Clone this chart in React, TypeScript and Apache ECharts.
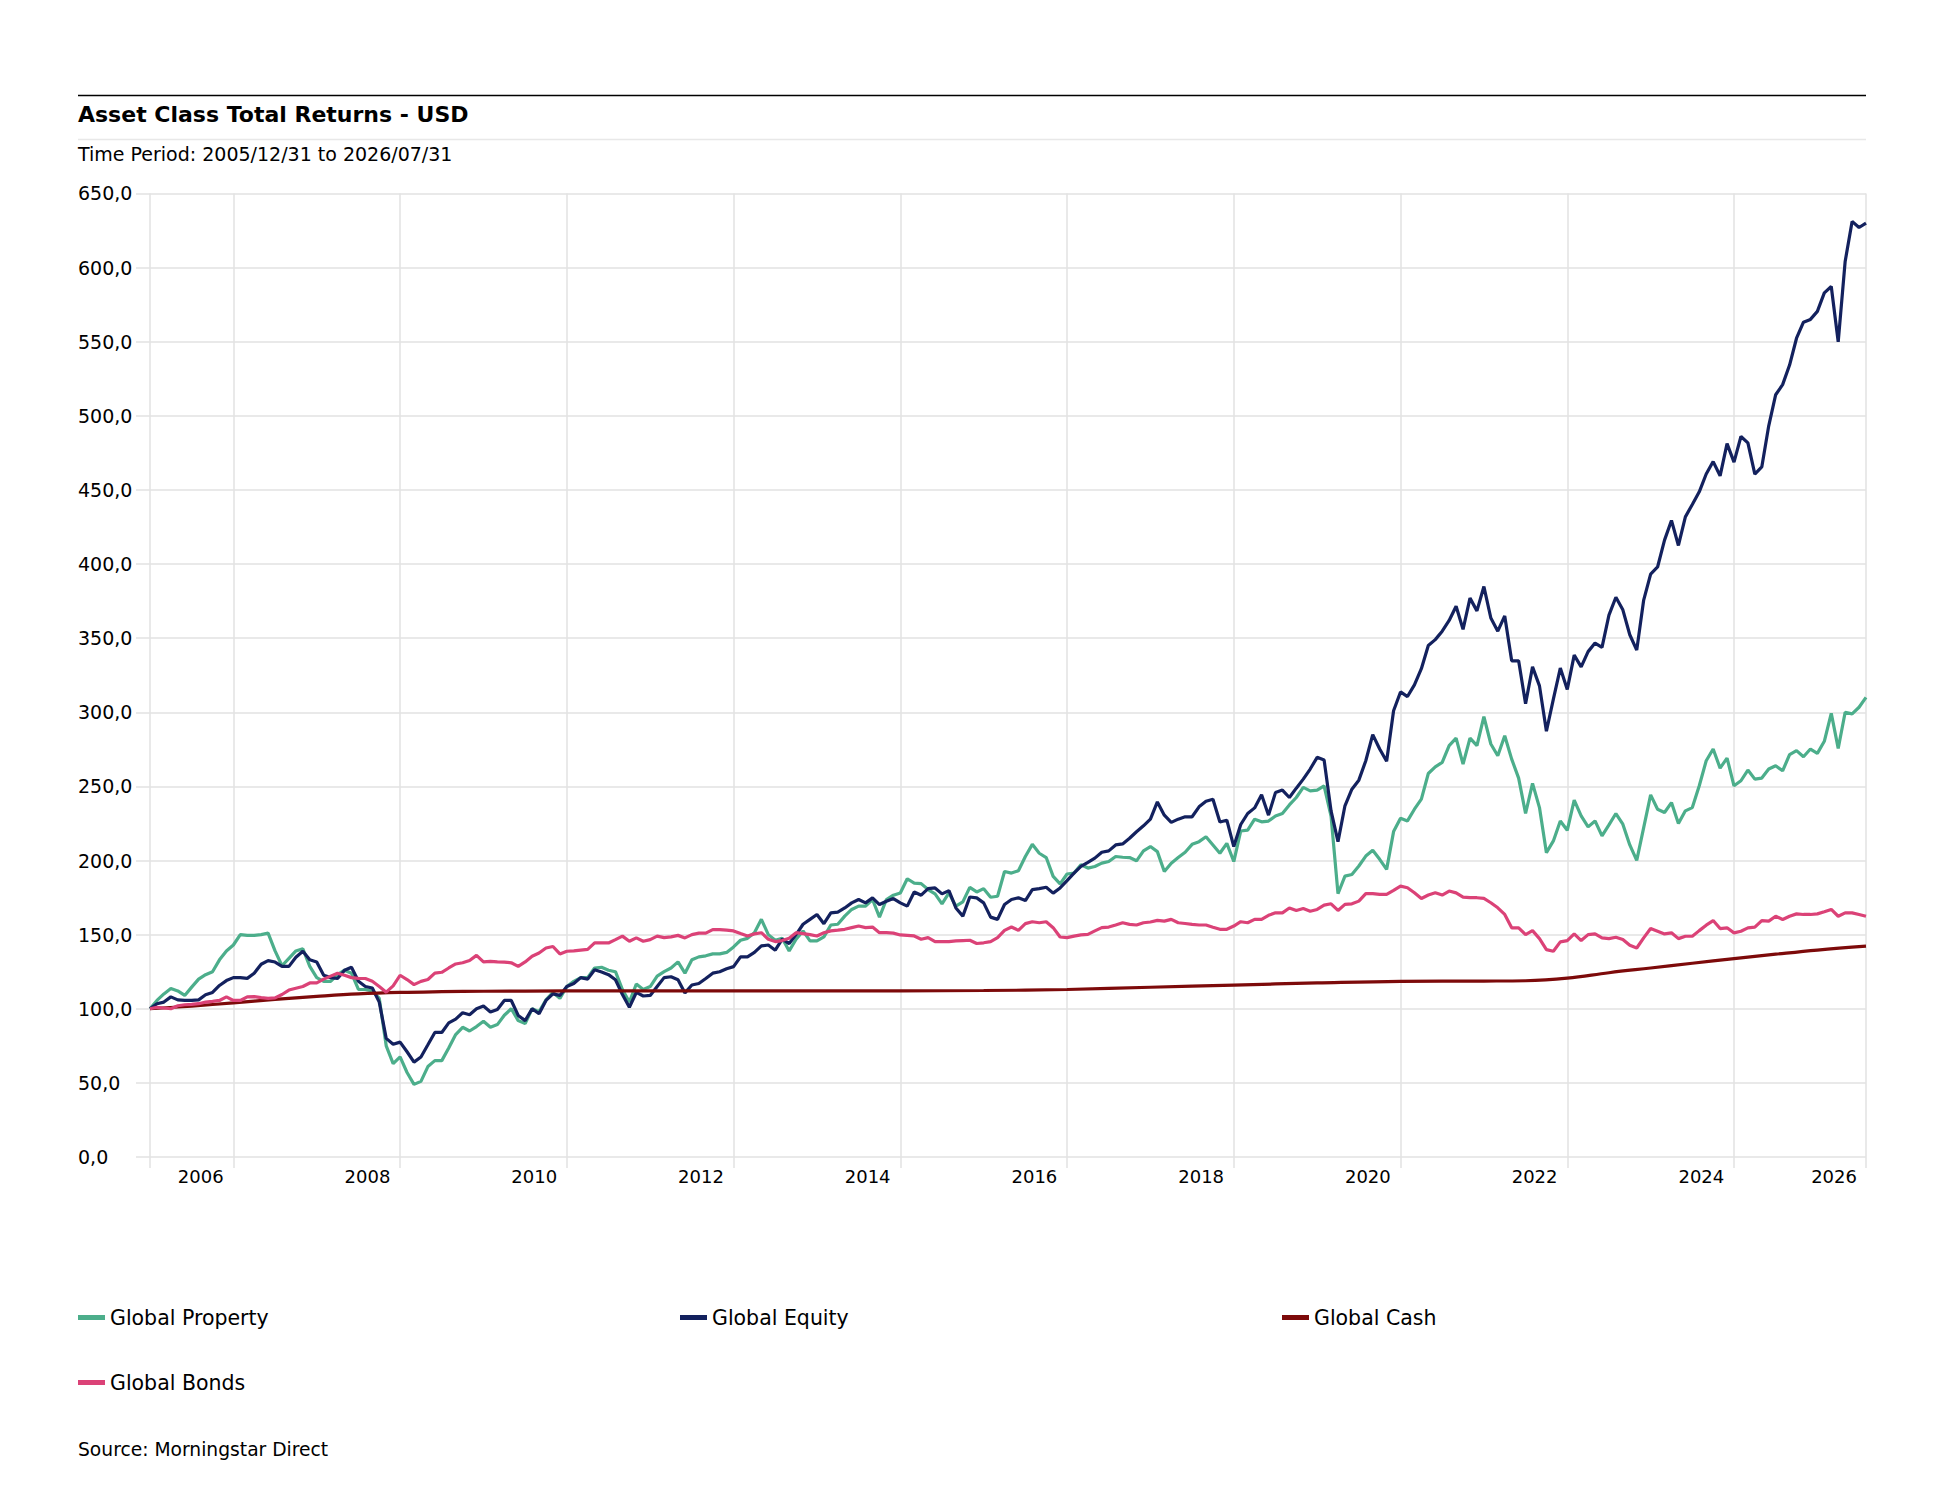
import React, { useEffect, useRef } from "react";
import * as echarts from "echarts";

// Months since 2005/12/31 (index = month), values rebased to 100
const propertyValues = [
  100, 105.6, 110, 113.6, 112, 109, 114.6, 120, 123, 125, 133, 139,
  143, 150, 149.5, 149.5, 150, 151, 139, 129, 134, 139, 140.5, 128.6,
  121, 118.5, 118.5, 123, 126, 124, 113, 113, 112, 107, 75, 63,
  67.5, 57, 49, 51, 61, 65, 65, 73.6, 82.6, 87.5, 85, 88,
  91.6, 87.5, 89.3, 95.6, 100, 92, 90, 100, 98, 106, 111, 107,
  115, 118.5, 121, 121, 127.5, 128, 126, 125, 113, 104.5, 116.7, 113,
  115, 122, 125, 127.5, 131.6, 124, 133, 135, 135.7, 137, 137, 138,
  141.7, 146.2, 147.5, 151.3, 160.3, 150, 146.2, 147.5, 139, 146.9, 152.5, 145.8,
  145.8, 148.5, 156.5, 157, 162.5, 167, 169.2, 169.2, 173.7, 161.8, 173.7, 176.6,
  178.1, 187.7, 184.8, 184.4, 180.4, 177.5, 170.8, 178.1, 169.2, 172.1, 181.9, 178.8,
  181, 175.2, 175.9, 192.6, 191.5, 193.1, 202.7, 210.9, 204.9, 202, 189.3, 184.2,
  190.9, 191.5, 197.1, 194.9, 196, 198.2, 199.3, 202.7, 202.2, 202, 199.8, 206.5,
  209.4, 206, 192.6, 198.2, 202, 205.6, 210.9, 212.7, 216, 210.5, 204.9, 211.6,
  199.3, 219.9, 220.5, 227.9, 226.1, 226.6, 230, 231.7, 237.5, 242.5, 249.3, 247,
  247.5, 250.4, 230, 177.6, 189.5, 190.6, 196.3, 203, 206.9, 200.8, 194, 219.5,
  228.5, 226.7, 234.6, 241.4, 258.7, 263.2, 266.2, 277.5, 282.6, 265, 282.6, 277.5,
  297.1, 278.6, 270.7, 284.2, 268.4, 255.6, 231.7, 252, 235.7, 205.3, 213.2, 226.7,
  220.4, 240.7, 230.1, 222.7, 226.7, 216.6, 224, 231.7, 224.5, 210.5, 200.1, 222.2,
  244.3, 234.6, 232.4, 239.1, 224.9, 233.5, 235.7, 250.4, 267.3, 275.2, 262.3, 269.1,
  250.4, 253.8, 261, 254.9, 255.6, 261.7, 263.9, 260.5, 271.4, 274.1, 270, 275.2,
  272.3, 280.4, 299.3, 275.6, 300, 298.9, 303.4, 310,
];

const equityValues = [
  100, 103.4, 104.5, 108, 106, 105.6, 105.6, 106, 109.4, 111, 115.7, 119,
  121, 121, 120.5, 124, 130, 132.5, 131.5, 128.6, 128.6, 134.7, 138.8, 133,
  131.6, 122.6, 121, 120.4, 126, 128, 118.5, 115, 114, 104.5, 80, 76,
  77.5, 71, 64, 67.5, 75.7, 84, 84, 90.5, 93, 97.3, 96, 100,
  101.8, 97.8, 99.5, 105.6, 105.6, 95.5, 92, 100, 96.6, 105.6, 110, 109,
  115, 117, 121, 120, 126.3, 124.8, 123, 119.6, 109.6, 101, 111, 108.6,
  109, 115, 121, 121.6, 119.6, 110.7, 116, 117, 120.4, 124, 125, 127,
  128.4, 135, 135, 138, 142.4, 143, 139.5, 146.9, 144, 150, 157, 160.3,
  163.6, 157.4, 164.7, 165.2, 168, 171.4, 173.7, 171.4, 174.8, 170.3, 172.5, 174.3,
  171.4, 169.2, 178.8, 176.6, 181, 181.5, 177.5, 179.7, 168, 162.5, 175.4, 174.8,
  171.4, 161.8, 160.3, 170.3, 173.7, 174.8, 173, 180.4, 181, 182, 178, 181.5,
  186.4, 191.5, 196, 198.7, 201.6, 205.6, 206.5, 210.5, 211.2, 215, 219.4, 223.4,
  227.9, 239.5, 230.6, 225.7, 227.9, 229.5, 229.5, 236.2, 240, 241.3, 226, 227.2,
  209.4, 224.3, 231.7, 235.5, 244.4, 230.6, 245.8, 247.5, 242.5, 248.8, 254.9, 261.7,
  269.6, 267.8, 233.5, 212.7, 236.9, 248.1, 254.2, 267.3, 284.9, 275.2, 266.9, 301,
  313.7, 310.6, 318.5, 329.4, 345, 349, 354.7, 361.9, 371.5, 355.9, 377, 368.4,
  384.8, 363.6, 354.7, 365, 334.7, 334.7, 305.7, 330.6, 317.8, 287.2, 308.9, 329.8,
  315.4, 338.5, 330.6, 340.9, 346.7, 343.8, 365.5, 377.6, 369.1, 352.3, 341.9, 375.7,
  393.2, 398, 416.1, 429.4, 412.5, 431.8, 440.2, 448.7, 460.7, 469.1, 459.5, 481.2,
  468.7, 486, 481.7, 460.7, 465.5, 493.2, 514.2, 521, 534.2, 552.3, 563.1, 565,
  570.4, 582.9, 587.2, 549.9, 604.1, 631.1, 627, 630,
];

const bondsValues = [
  100, 101, 100.5, 100, 102, 102.7, 103, 103.4, 104.5, 105, 105.6, 108,
  105.6, 105.6, 108, 108.2, 107.5, 107, 107.3, 109.6, 112.6, 113.8, 115, 117.4,
  117.4, 120, 122, 124, 122.6, 121, 120.5, 120.4, 118.5, 115, 111.2, 115.4,
  122.6, 119.7, 116.3, 118.5, 119.7, 124, 124.6, 127.5, 130.2, 131, 132.5, 136,
  131.6, 132, 131.6, 131.5, 131, 128.6, 131.6, 135.4, 137.6, 141, 142, 137,
  138.8, 139, 139.5, 140, 144.4, 144.4, 144.4, 146.6, 149, 145.5, 147.8, 145.5,
  146.6, 149, 148, 148.5, 149.5, 147.8, 150, 151, 151, 153.4, 153.4, 153,
  152.5, 150.7, 149.1, 150.5, 151.3, 146.9, 145.3, 146, 147.5, 151.3, 150.7, 150,
  149.1, 151.3, 152.5, 153, 153.6, 154.7, 155.8, 154.7, 155.1, 151.3, 151.3, 151,
  149.8, 149.5, 149.1, 146.9, 148, 145.3, 145.3, 145.3, 145.8, 146, 146.2, 144,
  144.5, 145.3, 148, 152.9, 155.1, 152.9, 157.4, 158.7, 158, 158.7, 154.7, 148.4,
  148, 149, 149.8, 150.2, 152.5, 154.7, 155.1, 156.5, 158, 156.9, 156.5, 158,
  158.5, 159.6, 159.1, 160.3, 158, 157.5, 156.9, 156.5, 156.5, 155, 153.6, 153.6,
  155.8, 158.7, 158, 160.3, 160.3, 163, 164.7, 164.7, 168, 166.3, 167.6, 165.8,
  167, 169.9, 170.8, 166.3, 170.4, 170.8, 172.6, 177.6, 177.6, 177.1, 177.1, 179.8,
  182.7, 181.6, 178.2, 174.4, 176.7, 178.2, 176.7, 179.4, 178.2, 175.3, 174.9, 174.9,
  174.4, 171.5, 168.1, 163.6, 154.6, 154.6, 150, 152.7, 147.3, 139.9, 138.8, 145.1,
  146, 150.5, 146, 150, 150.5, 147.8, 147.3, 148.2, 146.7, 142.8, 141, 147.8,
  154.1, 152.3, 150.5, 151.2, 147.3, 148.9, 148.9, 152.7, 156.4, 159.5, 154.1, 154.6,
  151.2, 152.3, 154.6, 155, 159.5, 159.1, 162.4, 160.2, 162.4, 164, 163.6, 163.6,
  164, 165.4, 167, 162.4, 164.7, 164.7, 163.6, 162.4,
];

const cashMonths = [0, 6, 12, 18, 24, 30, 36, 42, 48, 60, 72, 96, 120, 132, 144, 156, 168, 180, 192, 198, 204, 210, 216, 222, 228, 234, 240, 247];
const cashValues = [100, 101.8, 104, 106.3, 108.3, 110, 111, 111.5, 111.8, 112, 112, 112, 112.3, 113, 114.5, 116, 117.4, 118.5, 118.7, 118.9, 120.6, 124.3, 127.5, 130.7, 133.8, 136.8, 139.6, 142.2];

const seriesNames = ["Global Property", "Global Equity", "Global Cash", "Global Bonds"];
const seriesColors = ["#4cae8b", "#13215e", "#7d0a0a", "#db4277"];

const gridTickMonths = [0, 12, 36, 60, 84, 108, 132, 156, 180, 204, 228, 247];
const yearLabelMonths = [7.3, 31.3, 55.3, 79.3, 103.3, 127.3, 151.3, 175.3, 199.3, 223.3, 242.4];

const TITLE = "Asset Class Total Returns - USD";
const SUBTITLE = "Time Period: 2005/12/31 to 2026/07/31";
const SOURCE = "Source: Morningstar Direct";

const FONT = '"DejaVu Sans", Verdana, sans-serif';
const GRID_COLOR = "#e2e2e2";

export default function App() {
  const ref = useRef<HTMLDivElement>(null);

  useEffect(() => {
    document.body.style.margin = "0";
    const chart = echarts.init(ref.current!, null, { renderer: "svg" });

    const toPairs = (arr: number[]) => arr.map((v, i) => [i, v]);
    const dataSets = [
      toPairs(propertyValues),
      toPairs(equityValues),
      cashMonths.map((m, i) => [m, cashValues[i]]),
      toPairs(bondsValues),
    ];

    const legendPos = [
      { left: 78, top: 1307 },
      { left: 680, top: 1307 },
      { left: 1282, top: 1307 },
      { left: 78, top: 1372 },
    ];

    const option: any = {
      animation: false,
      backgroundColor: "#ffffff",
      textStyle: { fontFamily: FONT },
      grid: { left: 150, right: 76, top: 193.4, bottom: 343 },
      xAxis: {
        type: "value",
        min: 0,
        max: 247,
        axisLine: { show: false },
        axisTick: {
          show: true,
          customValues: gridTickMonths,
          length: 11,
          lineStyle: { color: GRID_COLOR, width: 1.5 },
        },
        splitLine: { show: true, lineStyle: { color: GRID_COLOR, width: 1.5 } },
        axisLabel: {
          customValues: yearLabelMonths,
          formatter: (v: number) => String(2005 + Math.ceil(v / 12)),
          color: "#000",
          fontSize: 18,
          fontFamily: FONT,
          margin: 10,
        },
      },
      yAxis: {
        type: "value",
        min: 0,
        max: 650,
        interval: 50,
        axisLine: { show: false },
        axisTick: { show: true, length: 14, lineStyle: { color: GRID_COLOR, width: 1.5 } },
        splitLine: { show: true, lineStyle: { color: GRID_COLOR, width: 1.5 } },
        axisLabel: {
          formatter: (v: number) => v.toFixed(1).replace(".", ","),
          color: "#000",
          fontSize: 19,
          fontFamily: FONT,
          align: "left",
          margin: 72,
        },
      },
      legend: seriesNames.map((n, i) => ({
        data: [n],
        left: legendPos[i].left,
        top: legendPos[i].top,
        icon: "rect",
        itemWidth: 27,
        itemHeight: 5,
        padding: 0,
        selectedMode: false,
        textStyle: { fontSize: 20.5, color: "#000", fontFamily: FONT },
      })),
      series: seriesNames.map((n, i) => ({
        name: n,
        type: "line",
        data: dataSets[i],
        showSymbol: false,
        symbol: "none",
        smooth: i === 2 ? 0.4 : false,
        color: seriesColors[i],
        lineStyle: { color: seriesColors[i], width: 3.2 },
        z: 2 + i,
      })),
      graphic: [
        {
          type: "line",
          shape: { x1: 78, y1: 95.5, x2: 1866, y2: 95.5 },
          style: { stroke: "#000", lineWidth: 1.5 },
        },
        {
          type: "line",
          shape: { x1: 78, y1: 139.5, x2: 1866, y2: 139.5 },
          style: { stroke: "#e8e8e8", lineWidth: 1.5 },
        },
        {
          type: "text",
          x: 78,
          y: 114,
          style: {
            text: TITLE,
            font: `bold 22px ${FONT}`,
            fill: "#000",
            verticalAlign: "middle",
            textVerticalAlign: "middle",
          },
        },
        {
          type: "text",
          x: 78,
          y: 153.5,
          style: {
            text: SUBTITLE,
            font: `19px ${FONT}`,
            fill: "#000",
            verticalAlign: "middle",
            textVerticalAlign: "middle",
          },
        },
        {
          type: "text",
          x: 78,
          y: 1449,
          style: {
            text: SOURCE,
            font: `18.7px ${FONT}`,
            fill: "#000",
            verticalAlign: "middle",
            textVerticalAlign: "middle",
          },
        },
      ],
    };

    chart.setOption(option);
    return () => chart.dispose();
  }, []);

  return <div ref={ref} style={{ width: 1942, height: 1500 }} />;
}
